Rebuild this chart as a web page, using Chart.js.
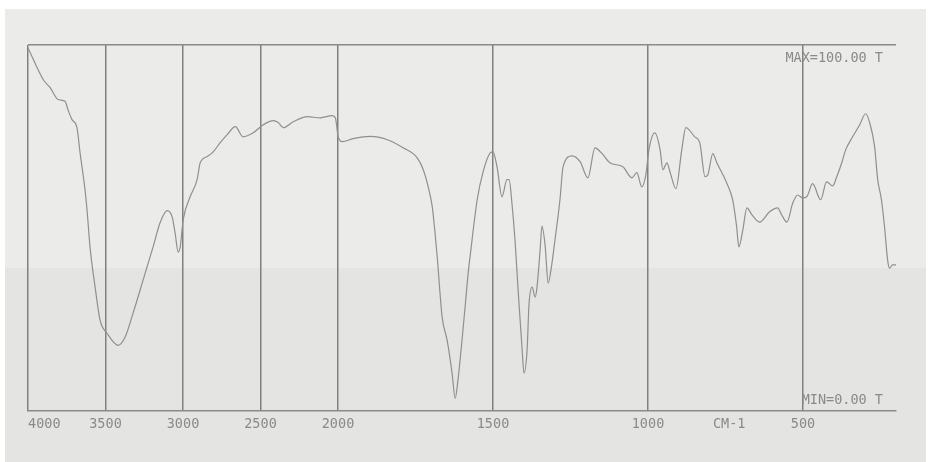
<!DOCTYPE html>
<html>
<head>
<meta charset="utf-8">
<script src="https://cdn.jsdelivr.net/npm/chart.js@4/dist/chart.umd.min.js"></script>
<style>
  html, body { margin: 0; padding: 0; background: #ffffff; }
  #wrap { width: 935px; height: 462px; }
</style>
</head>
<body>
<div id="wrap"><canvas id="c" width="935" height="462"></canvas></div>
<script>
// ---- data ----
const WAVENUMBERS = [
  4000, 3901, 3858, 3806, 3761, 3742, 3716, 3684, 3664, 3632,
  3619, 3600, 3567, 3535, 3490, 3419, 3374, 3322, 3257, 3193,
  3148, 3102, 3070, 3051, 3031, 3018, 2999, 2954, 2909, 2889,
  2844, 2805, 2760, 2715, 2663, 2612, 2547, 2482, 2418, 2386,
  2353, 2289, 2198, 2114, 2037, 2017, 1999, 1986, 1951, 1896,
  1841, 1790, 1745, 1725, 1709, 1696, 1687, 1680, 1664, 1648,
  1632, 1622, 1613, 1600, 1590, 1580, 1574, 1551, 1532, 1509,
  1500, 1487, 1471, 1455, 1448, 1439, 1429, 1419, 1406, 1400,
  1390, 1384, 1374, 1364, 1358, 1348, 1342, 1332, 1322, 1313,
  1300, 1284, 1274, 1245, 1219, 1194, 1171, 1148, 1123, 1081,
  1052, 1036, 1020, 1007, 997, 978, 961, 952, 939, 929,
  910, 891, 878, 849, 833, 816, 807, 791, 778, 746,
  727, 714, 707, 694, 681, 665, 640, 608, 582, 569,
  552, 533, 517, 501, 488, 469, 443, 424, 404, 391,
  375, 362, 340, 317, 298, 285, 269, 259, 247, 237,
  227, 221, 211, 200
];
const TRANSMITTANCE = [
  99.2, 90.5, 88.4, 85.1, 84.6, 82.3, 79.6, 77.4, 70.5, 60.4,
  54.9, 44.8, 33.8, 24.8, 21.2, 17.9, 20.1, 26.7, 35.8, 44.8,
  51.4, 54.7, 53.0, 48.6, 43.4, 44.8, 52.2, 58.5, 63.2, 67.8,
  69.5, 70.8, 73.3, 75.5, 77.7, 74.9, 76.0, 78.2, 79.3, 78.8,
  77.4, 79.0, 80.4, 80.1, 80.7, 80.1, 74.7, 73.6, 74.4, 75.0,
  74.1, 71.9, 69.2, 65.9, 61.2, 55.8, 48.6, 42.1, 25.6, 19.3,
  10.3, 3.4, 8.4, 19.3, 28.4, 37.7, 42.1, 57.7, 65.3, 70.5,
  70.8, 66.7, 58.5, 63.2, 63.2, 56.8, 46.7, 33.0, 16.6, 10.3,
  16.6, 28.9, 33.8, 31.1, 33.8, 44.0, 50.5, 45.3, 34.9, 38.5,
  46.7, 57.7, 66.7, 69.7, 68.1, 63.7, 71.9, 70.3, 67.8, 66.7,
  63.7, 65.1, 61.2, 64.5, 71.4, 76.0, 71.4, 65.9, 67.8, 65.3,
  60.7, 71.4, 77.4, 74.9, 73.3, 64.0, 64.5, 70.3, 67.8, 62.3,
  57.7, 50.3, 44.8, 49.5, 55.5, 53.6, 51.6, 54.4, 55.5, 53.6,
  51.6, 56.8, 59.0, 58.2, 58.5, 62.1, 57.7, 62.6, 61.5, 64.0,
  67.8, 71.4, 74.9, 78.2, 81.2, 78.8, 72.2, 63.2, 57.7, 50.3,
  41.2, 39.0, 39.9, 39.9
];
const TICK_VALUES = [4000, 3500, 3000, 2500, 2000, 1500, 1000, 738, 500, 200];
const TICK_LABELS = ['4000', '3500', '3000', '2500', '2000', '1500', '1000', 'CM-1', '500', ''];
const GRID_TICKS = [4000, 3500, 3000, 2500, 2000, 1500, 1000, 500];
const SCALE_BREAK = 2000;   // chart expands 2x below 2000 cm-1
const MAX_LABEL = 'MAX=100.00 T';
const MIN_LABEL = 'MIN=0.00 T';

// ---- custom IR wavenumber scale with the 2x scale change at 2000 ----
class IRScale extends Chart.LinearScale {
  static id = 'ir';
  static defaults = {};
  _pos(v) {
    const top = this.max;
    return v >= SCALE_BREAK ? (top - v) : (top - SCALE_BREAK) + (SCALE_BREAK - v) * 2;
  }
  buildTicks() {
    return TICK_VALUES.map(v => ({ value: v }));
  }
  getPixelForValue(v) {
    return this.getPixelForDecimal(this._pos(v) / this._pos(this.min));
  }
  getValueForPixel(p) {
    const t = this.getDecimalForPixel(p) * this._pos(this.min);
    const b = this.max - SCALE_BREAK;
    return t <= b ? this.max - t : SCALE_BREAK - (t - b) / 2;
  }
}
Chart.register(IRScale);

const INK = '#8a8a8a';
const FONT = "'DejaVu Sans Mono', 'Liberation Mono', monospace";

const paper = {
  id: 'paper',
  beforeDraw(chart) {
    const ctx = chart.ctx;
    ctx.save();
    ctx.fillStyle = '#ffffff';
    ctx.fillRect(0, 0, chart.width, chart.height);
    ctx.fillStyle = '#ebebea';
    ctx.fillRect(5, 9, 921, 453);
    ctx.fillStyle = '#e4e4e3';
    ctx.fillRect(5, 268, 921, 194);
    ctx.restore();
  },
  afterDraw(chart) {
    const ctx = chart.ctx;
    const a = chart.chartArea;
    ctx.save();
    ctx.fillStyle = INK;
    ctx.font = '13.5px ' + FONT;
    ctx.textAlign = 'right';
    ctx.textBaseline = 'middle';
    ctx.fillText(MAX_LABEL, a.right - 13, a.top + 13);
    ctx.fillText(MIN_LABEL, a.right - 13, a.bottom - 10);
    ctx.restore();
  }
};

new Chart(document.getElementById('c'), {
  type: 'line',
  data: {
    datasets: [{
      data: WAVENUMBERS.map((w, i) => ({ x: w, y: TRANSMITTANCE[i] })),
      borderColor: '#8f8f8f',
      borderWidth: 1.2,
      pointRadius: 0,
      fill: false,
      cubicInterpolationMode: 'monotone'
    }]
  },
  options: {
    responsive: false,
    animation: false,
    events: [],
    layout: { padding: { left: 28, right: 39, top: 45, bottom: 23 } },
    plugins: { legend: { display: false }, tooltip: { enabled: false } },
    scales: {
      x: {
        type: 'ir',
        position: 'bottom',
        min: 200,
        max: 4000,
        border: { display: true, color: '#8a8a8a', width: 1.5 },
        grid: {
          drawTicks: false,
          lineWidth: 1.5,
          color: ctx => (ctx.tick && GRID_TICKS.includes(ctx.tick.value)) ? '#808080' : 'rgba(0,0,0,0)'
        },
        ticks: {
          autoSkip: false,
          maxRotation: 0,
          minRotation: 0,
          align: 'inner',
          padding: 6,
          color: INK,
          font: { family: FONT, size: 13.5 },
          callback: (v, i) => TICK_LABELS[i]
        }
      },
      y: {
        min: 0,
        max: 100,
        position: 'left',
        afterBuildTicks: s => { s.ticks = [{ value: 100 }]; },
        border: { display: false },
        grid: { drawTicks: false, lineWidth: 1.5, color: '#8a8a8a' },
        ticks: { display: false }
      }
    }
  },
  plugins: [paper]
});
</script>
</body>
</html>
